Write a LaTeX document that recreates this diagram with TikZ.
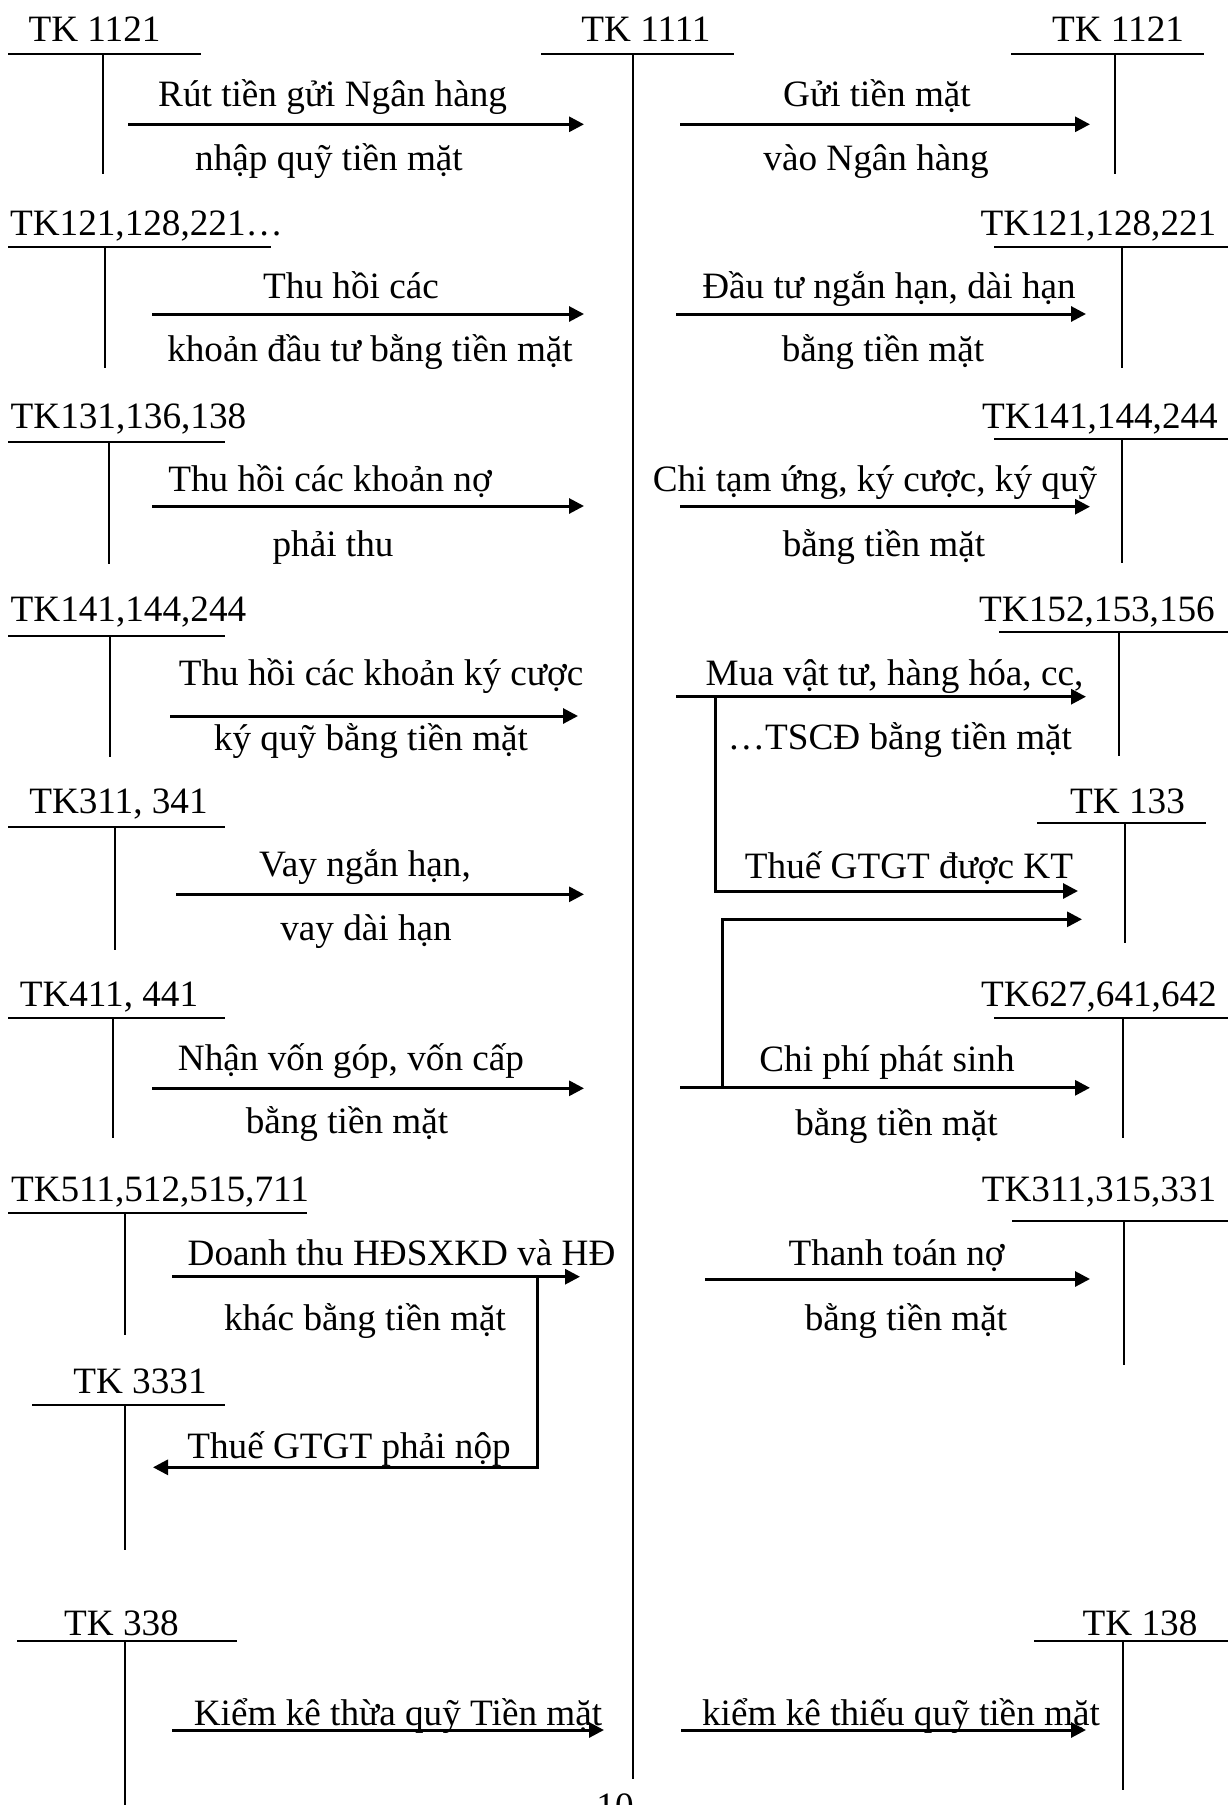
\documentclass[tikz,border=0pt]{standalone}
\usepackage{fontspec}
\setmainfont{Liberation Serif}
\usetikzlibrary{arrows.meta}

\tikzset{
  lbl/.style={anchor=base, inner sep=0pt, outer sep=0pt,
              font=\fontsize{18.6pt}{22pt}\selectfont},
  tline/.style={line width=1pt},
  flow/.style={line width=1.5pt, -{Triangle[length=7.5pt,width=7.5pt]}},
}

% T-account: name, title, title x, title baseline, bar left, bar right, bar y, stem x, stem bottom
\newcommand\TAcc[9]{%
  \node[lbl] (#1) at (#3,#4) {#2};
  \coordinate (#1-l) at (#5,#7);
  \coordinate (#1-r) at (#6,#7);
  \coordinate (#1-t) at (#8,#7);
  \coordinate (#1-b) at (#8,#9);
  \draw[tline] (#1-l) -- (#1-r);
  \draw[tline] (#1-t) -- (#1-b);
}

% horizontal entry arrow: id, x from, x to, y
\newcommand\Flow[4]{%
  \coordinate (#1-s) at (#2,#4);
  \coordinate (#1-e) at (#3,#4);
  \draw[flow] (#1-s) -- (#1-e);
}

\begin{document}
\begin{tikzpicture}[x=0.5pt, y=-0.5pt]
\useasboundingbox (0,0) rectangle (1227,1805);

% cash account in the middle
\TAcc{cash}{TK 1111}{646}{41.7}{541}{734}{54.3}{633}{1779}

% accounts on the left (debit side of cash)
\TAcc{la}{TK 1121}{94.5}{41.7}{8}{201}{54.3}{103}{174.3}
\TAcc{lb}{TK121,128,221…}{146.5}{235}{8}{271}{247.3}{105}{368.3}
\TAcc{lc}{TK131,136,138}{128.5}{428.3}{8}{225}{442.3}{109}{564}
\TAcc{ld}{TK141,144,244}{128.5}{621.7}{8}{225}{635.7}{110}{756.7}
\TAcc{le}{TK311, 341}{118.5}{813.3}{8}{225}{827.3}{115}{950}
\TAcc{lf}{TK411, 441}{109}{1006.7}{8}{225}{1017.7}{113}{1138.3}
\TAcc{lg}{TK511,512,515,711}{160}{1201.7}{8}{307}{1213.3}{125}{1335}
\TAcc{lh}{TK 3331}{140}{1393.3}{32}{225}{1405}{125}{1550}
\TAcc{li}{TK 338}{121.5}{1635}{17}{237}{1640.5}{125}{1810}

% accounts on the right (credit side of cash)
\TAcc{ra}{TK 1121}{1118}{41.7}{1011}{1204}{54.3}{1115}{174.3}
\TAcc{rb}{TK121,128,221}{1098.5}{235}{994}{1230}{247.3}{1122}{368.3}
\TAcc{rc}{TK141,144,244}{1100}{428.3}{994}{1230}{439.3}{1122}{562.7}
\TAcc{rd}{TK152,153,156}{1097}{621.7}{999}{1230}{631.7}{1119}{756}
\TAcc{re}{TK 133}{1127.5}{813.3}{1037}{1206}{823.3}{1125}{943.3}
\TAcc{rf}{TK627,641,642}{1099}{1006.7}{994}{1230}{1017.7}{1123}{1137.7}
\TAcc{rg}{TK311,315,331}{1099}{1201.7}{1012}{1230}{1220.7}{1124}{1365}
\TAcc{rh}{TK 138}{1140}{1635}{1034}{1230}{1640.5}{1123}{1790}

% ---- receipts into cash
\Flow{f1}{128}{584}{124.3}
\node[lbl] (t1a) at (332.6,106.7) {Rút tiền gửi Ngân hàng};
\node[lbl] (t1b) at (329,170) {nhập quỹ tiền mặt};

\Flow{f2}{152}{584}{314}
\node[lbl] (t2a) at (351,298.3) {Thu hồi các};
\node[lbl] (t2b) at (370,361.7) {khoản đầu tư bằng tiền mặt};

\Flow{f3}{152}{584}{506}
\node[lbl] (t3a) at (330,491.7) {Thu hồi các khoản nợ};
\node[lbl] (t3b) at (333,556.7) {phải thu};

\Flow{f4}{170}{578}{716}
\node[lbl] (t4a) at (381,685) {Thu hồi các khoản ký cược};
\node[lbl] (t4b) at (371,750) {ký quỹ bằng tiền mặt};

\Flow{f5}{176}{584}{894.3}
\node[lbl] (t5a) at (365,876.7) {Vay ngắn hạn,};
\node[lbl] (t5b) at (366,940) {vay dài hạn};

\Flow{f6}{152}{584}{1088.3}
\node[lbl] (t6a) at (351,1070) {Nhận vốn góp, vốn cấp};
\node[lbl] (t6b) at (347,1133.3) {bằng tiền mặt};

\Flow{f7}{172}{580}{1276.7}
\node[lbl] (t7a) at (401.6,1265) {Doanh thu HĐSXKD và HĐ};
\node[lbl] (t7b) at (365,1330) {khác bằng tiền mặt};
\coordinate (f7-k) at (537,1276.7);
\coordinate (f7-v) at (153,1467.3);
\draw[flow] (f7-k) |- (f7-v);
\node[lbl] (t7c) at (349,1458.3) {Thuế GTGT phải nộp};

\Flow{f8}{172}{604}{1730}
\node[lbl] (t8) at (398,1725) {Kiểm kê thừa quỹ Tiền mặt};

% ---- payments out of cash
\Flow{g1}{680}{1090}{124.3}
\node[lbl] (u1a) at (877,106.7) {Gửi tiền mặt};
\node[lbl] (u1b) at (876,170) {vào Ngân hàng};

\Flow{g2}{676}{1086}{314}
\node[lbl] (u2a) at (889,298.3) {Đầu tư ngắn hạn, dài hạn};
\node[lbl] (u2b) at (883,361.7) {bằng tiền mặt};

\Flow{g3}{680}{1090}{506.7}
\node[lbl] (u3a) at (875,491.7) {Chi tạm ứng, ký cược, ký quỹ};
\node[lbl] (u3b) at (884,556) {bằng tiền mặt};

\Flow{g4}{676}{1086}{696.7}
\node[lbl] (u4a) at (894.5,685) {Mua vật tư, hàng hóa, cc,};
\node[lbl] (u4b) at (900,749.3) {…TSCĐ bằng tiền mặt};
\coordinate (g4-k) at (715,696.7);
\coordinate (g4-v) at (1078,891);
\draw[flow] (g4-k) |- (g4-v);
\node[lbl] (u4c) at (909,878.3) {Thuế GTGT được KT};

\Flow{g5}{680}{1090}{1087.8}
\node[lbl] (u5a) at (887,1071.7) {Chi phí phát sinh};
\node[lbl] (u5b) at (896.5,1135) {bằng tiền mặt};
\coordinate (g5-k) at (722,1087.8);
\coordinate (g5-v) at (1082,919.3);
\draw[flow] (g5-k) |- (g5-v);

\Flow{g6}{705}{1090}{1279}
\node[lbl] (u6a) at (896.6,1265) {Thanh toán nợ};
\node[lbl] (u6b) at (906,1330) {bằng tiền mặt};

\Flow{g7}{681}{1086}{1730}
\node[lbl] (u7) at (901,1725) {kiểm kê thiếu quỹ tiền mặt};

% page number, cut by the lower edge
\node[lbl] (pg) at (615,1818) {10};
\end{tikzpicture}
\end{document}
